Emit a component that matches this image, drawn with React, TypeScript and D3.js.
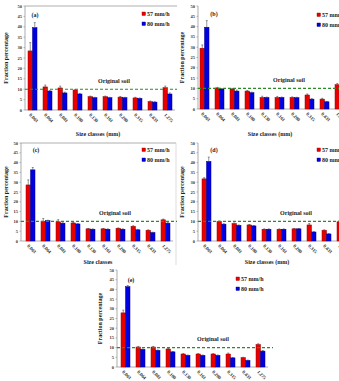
import * as d3 from 'd3';
import { useEffect, useRef } from 'react';

const sizeClasses = ['0.063', '0.064', '0.081', '0.100', '0.130', '0.161', '0.200', '0.315', '0.433', '1.275'];
const seriesNames = ['57 mm/h', '80 mm/h'];
const originalSoil = 10;
const yTicks = [0, 5, 10, 15, 20, 25, 30, 35, 40, 45, 50];

const a57 = [28.4, 11.1, 10.6, 9.6, 6.4, 6.4, 6.2, 5.8, 4.0, 10.7];
const a80 = [39.6, 9.1, 8.2, 7.7, 5.9, 5.9, 5.9, 5.6, 3.8, 7.7];
const a57err = [4.0, 0.9, 0.9, 0.3, 0.3, 0.3, 0.3, 0.3, 0.3, 0.8];
const a80err = [2.4, 0.3, 0.4, 0.3, 0.2, 0.2, 0.2, 0.2, 0.2, 0.5];

const b57 = [29.5, 10.2, 9.7, 8.7, 5.6, 5.6, 5.6, 6.8, 4.8, 11.8];
const b80 = [39.7, 9.7, 8.7, 7.9, 5.6, 5.6, 5.5, 4.8, 3.5, 8.0];
const b57err = [1.6, 0.3, 0.3, 0.3, 0.6, 0.5, 0.3, 0.5, 0.4, 0.6];
const b80err = [3.2, 0.2, 0.5, 0.3, 0.2, 0.2, 0.2, 0.2, 0.2, 0.4];

const c57 = [28.6, 10.1, 9.8, 9.2, 6.2, 6.2, 6.5, 7.5, 5.5, 10.8];
const c80 = [36.3, 10.4, 9.1, 8.7, 6.0, 6.0, 6.0, 5.7, 4.3, 9.1];
const c57err = [2.6, 1.4, 1.1, 0.3, 0.2, 0.2, 0.2, 0.3, 0.2, 0.4];
const c80err = [1.2, 0.2, 0.2, 0.2, 0.2, 0.2, 0.2, 0.2, 0.2, 0.3];

const d57 = [31.7, 9.9, 8.9, 8.2, 6.0, 6.0, 6.2, 8.2, 5.5, 9.8];
const d80 = [40.6, 8.6, 8.0, 7.7, 6.0, 6.0, 6.2, 4.6, 3.6, 8.0];
const d57err = [0.6, 0.3, 0.3, 0.2, 0.2, 0.2, 0.2, 0.7, 0.2, 0.4];
const d80err = [2.2, 0.2, 0.2, 0.2, 0.2, 0.2, 0.2, 0.2, 0.2, 0.3];

const e57 = [27.9, 10.3, 10.3, 9.3, 6.7, 6.7, 6.7, 6.7, 4.8, 11.6];
const e80 = [41.4, 9.1, 8.6, 7.8, 6.0, 6.0, 6.0, 4.7, 3.4, 8.2];
const e57err = [1.4, 0.3, 0.3, 0.3, 0.2, 0.2, 0.2, 0.5, 0.2, 0.4];
const e80err = [0.6, 0.2, 0.2, 0.2, 0.2, 0.2, 0.2, 0.2, 0.2, 0.3];

// layout of each sub-chart (pixel positions, not data)
const panels = [
  { tag: '(a)', s57: a57, s80: a80, e57: a57err, e80: a80err, axisX: 25, bandX: 25, y0: 110, yTop: 6, tagX: 35, tagY: 17, legX: 142, legY: 14, soilX: 114, soilY: 83, yTitleX: 8, xTitle: 'Size classes (mm)', xTitleX: 98, xTitleY: 136, clip: [0, 0, 177, 138], frame: true },
  { tag: '(b)', s57: b57, s80: b80, e57: b57err, e80: b80err, axisX: 198, bandX: 197, y0: 109, yTop: 6, tagX: 214, tagY: 16, legX: 317, legY: 15, soilX: 289, soilY: 82, yTitleX: 184, xTitle: 'Size classes (mm)', xTitleX: 270, xTitleY: 136, clip: [177, 0, 162, 138], frame: false },
  { tag: '(c)', s57: c57, s80: c80, e57: c57err, e80: c80err, axisX: 21, bandX: 23, y0: 241, yTop: 143, tagX: 36, tagY: 152, legX: 142, legY: 150, soilX: 115, soilY: 215, yTitleX: 8, xTitle: 'Size classes', xTitleX: 98, xTitleY: 264, clip: [0, 138, 177, 127], frame: true },
  { tag: '(d)', s57: d57, s80: d80, e57: d57err, e80: d80err, axisX: 198, bandX: 199, y0: 241, yTop: 143, tagX: 214, tagY: 152, legX: 317, legY: 150, soilX: 296, soilY: 215, yTitleX: 184, xTitle: 'Size classes (mm)', xTitleX: 267, xTitleY: 264, clip: [177, 138, 162, 127], frame: false },
  { tag: '(e)', s57: e57, s80: e80, e57: e57err, e80: e80err, axisX: 117, bandX: 118, y0: 367, yTop: 270, tagX: 131, tagY: 282, legX: 236, legY: 279, soilX: 213, soilY: 341, yTitleX: 102, xTitle: 'Size classes (mm)', xTitleX: 193, xTitleY: 392, clip: [80, 266, 200, 115], frame: false },
];

const colors = ['#e80000', '#0000e0'];
const strokes = ['#9a0000', '#00008a'];

export default function App() {
  const ref = useRef<SVGSVGElement>(null);

  useEffect(() => {
    const svg = d3.select(ref.current);
    svg.selectAll('*').remove();
    const font = '"Liberation Serif", "Times New Roman", serif';

    panels.forEach((p, pi) => {
      const clipId = `clip${pi}`;
      svg.append('clipPath').attr('id', clipId)
        .append('rect')
        .attr('x', p.clip[0]).attr('y', p.clip[1])
        .attr('width', p.clip[2]).attr('height', p.clip[3]);

      const g = svg.append('g').attr('clip-path', `url(#${clipId})`).style('font-family', font);

      const x = d3.scaleBand().domain(sizeClasses).range([p.bandX, p.bandX + 150]).paddingInner(0.4).paddingOuter(0.2);
      const xs = d3.scaleBand().domain(['0', '1']).range([0, x.bandwidth()]);
      const y = d3.scaleLinear().domain([0, 50]).range([p.y0, p.yTop]);
      const right = p.bandX + 150;

      if (p.frame) {
        g.append('line').attr('x1', p.axisX).attr('x2', right + 3).attr('y1', y(50)).attr('y2', y(50))
          .attr('stroke', '#9a9a9a').attr('stroke-width', 0.8);
        g.append('line').attr('x1', right + 3).attr('x2', right + 3).attr('y1', y(50)).attr('y2', p.y0 + 25)
          .attr('stroke', '#c8c8c8').attr('stroke-width', 0.6);
      }

      // y axis
      g.append('line').attr('x1', p.axisX).attr('x2', p.axisX).attr('y1', y(0)).attr('y2', y(50))
        .attr('stroke', '#8a8a8a').attr('stroke-width', 0.7);
      g.selectAll('.yt').data(yTicks).enter().append('line')
        .attr('x1', p.axisX - 1.5).attr('x2', p.axisX).attr('y1', (d) => y(d)).attr('y2', (d) => y(d))
        .attr('stroke', '#8a8a8a').attr('stroke-width', 0.6);
      g.selectAll('.yl').data(yTicks).enter().append('text')
        .attr('x', p.axisX - 3).attr('y', (d) => y(d) + 1.5)
        .attr('text-anchor', 'end').attr('font-size', 4.5).attr('font-weight', 'bold').attr('fill', '#333')
        .text((d) => d);

      // baseline
      g.append('line').attr('x1', p.axisX).attr('x2', right).attr('y1', y(0)).attr('y2', y(0))
        .attr('stroke', '#8a8a8a').attr('stroke-width', 0.7);

      // bars
      const series = [
        { vals: p.s57, errs: p.e57 },
        { vals: p.s80, errs: p.e80 },
      ];
      series.forEach((s, si) => {
        g.selectAll(`.bar${si}`).data(s.vals).enter().append('rect')
          .attr('x', (_d, i) => x(sizeClasses[i])! + xs(String(si))!)
          .attr('y', (d) => y(d))
          .attr('width', xs.bandwidth())
          .attr('height', (d) => y(0) - y(d))
          .attr('fill', colors[si])
          .attr('stroke', strokes[si])
          .attr('stroke-width', 0.5);
        const cx = (i: number) => x(sizeClasses[i])! + xs(String(si))! + xs.bandwidth() / 2;
        g.selectAll(`.err${si}`).data(s.vals).enter().append('path')
          .attr('d', (d, i) => {
            const top = y(d + s.errs[i]);
            return `M${cx(i)},${y(d)}V${top}M${cx(i) - 1},${top}H${cx(i) + 1}`;
          })
          .attr('stroke', '#333').attr('stroke-width', 0.5).attr('fill', 'none');
      });

      // original soil
      g.append('line').attr('x1', p.axisX).attr('x2', right + 5).attr('y1', y(originalSoil)).attr('y2', y(originalSoil))
        .attr('stroke', '#2a8a2a').attr('stroke-width', 1.1).attr('stroke-dasharray', '3,2');
      g.append('text').attr('x', p.soilX).attr('y', p.soilY)
        .attr('text-anchor', 'middle').attr('font-size', 6).attr('font-weight', 'bold').attr('fill', '#222')
        .text('Original soil');

      // x tick labels
      g.selectAll('.xl').data(sizeClasses).enter().append('text')
        .attr('transform', (d) => `translate(${x(d)! + x.bandwidth() / 2},${p.y0 + 9}) rotate(45)`)
        .attr('text-anchor', 'middle').attr('font-size', 4.8).attr('font-weight', 'bold').attr('fill', '#333')
        .text((d) => d);

      // titles
      g.append('text').attr('transform', `translate(${p.yTitleX},${(p.y0 + p.yTop) / 2}) rotate(-90)`)
        .attr('text-anchor', 'middle').attr('font-size', 6).attr('font-weight', 'bold').attr('fill', '#222')
        .text('Fraction percentage');
      g.append('text').attr('x', p.xTitleX).attr('y', p.xTitleY)
        .attr('text-anchor', 'middle').attr('font-size', 6).attr('font-weight', 'bold').attr('fill', '#222')
        .text(p.xTitle);
      g.append('text').attr('x', p.tagX).attr('y', p.tagY)
        .attr('text-anchor', 'middle').attr('font-size', 6).attr('font-weight', 'bold').attr('fill', '#222')
        .text(p.tag);

      // legend
      seriesNames.forEach((name, si) => {
        const ly = p.legY + si * 10;
        g.append('rect').attr('x', p.legX).attr('y', ly - 2).attr('width', 3.5).attr('height', 3.5)
          .attr('fill', colors[si]).attr('stroke', strokes[si]).attr('stroke-width', 0.4);
        g.append('text').attr('x', p.legX + 5).attr('y', ly + 1.8)
          .attr('font-size', 6).attr('font-weight', 'bold').attr('fill', '#222')
          .text(name);
      });
    });
  }, []);

  return (
    <svg
      ref={ref}
      width={339}
      height={381}
      style={{ position: 'absolute', left: 0, top: 0, background: '#fff' }}
    />
  );
}
